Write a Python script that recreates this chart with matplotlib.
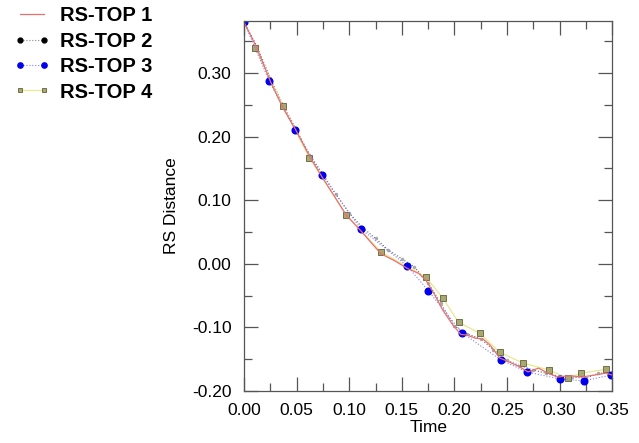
import numpy as np
import matplotlib
matplotlib.use("Agg")
import matplotlib.pyplot as plt
from matplotlib.ticker import MultipleLocator

plt.rcParams['font.family'] = ['Liberation Sans', 'DejaVu Sans']

# RS-TOP 1 (red thin line)
t1 = [0.0, 0.012, 0.025, 0.037, 0.049, 0.063, 0.074, 0.086, 0.097, 0.111, 0.130,
      0.143, 0.155, 0.166, 0.173, 0.181, 0.189, 0.198, 0.206, 0.212, 0.220, 0.227,
      0.234, 0.243, 0.253, 0.262, 0.270, 0.280, 0.289, 0.298, 0.310, 0.321, 0.333,
      0.344, 0.350]
v1 = [0.380, 0.340, 0.287, 0.245, 0.211, 0.167, 0.137, 0.106, 0.077, 0.052, 0.016,
      0.005, -0.007, -0.015, -0.026, -0.048, -0.073, -0.095, -0.111, -0.112, -0.117,
      -0.118, -0.128, -0.148, -0.155, -0.162, -0.170, -0.164, -0.172, -0.178, -0.176,
      -0.178, -0.175, -0.172, -0.175]

# RS-TOP 2 (black dotted)
t2 = [0.0, 0.012, 0.025, 0.037, 0.050, 0.062, 0.075, 0.087, 0.100, 0.112, 0.125,
      0.137, 0.150, 0.162, 0.175, 0.187, 0.200, 0.212, 0.225, 0.237, 0.250, 0.262,
      0.275, 0.287, 0.300, 0.312, 0.325, 0.337, 0.350]
v2 = [0.380, 0.343, 0.292, 0.250, 0.210, 0.172, 0.141, 0.110, 0.080, 0.058, 0.040,
      0.022, 0.008, -0.005, -0.030, -0.062, -0.098, -0.110, -0.118, -0.135, -0.152,
      -0.160, -0.167, -0.172, -0.177, -0.178, -0.180, -0.172, -0.172]

# RS-TOP 3 (blue circles)
t3 = [0.0, 0.024, 0.0485, 0.074, 0.111, 0.155, 0.175, 0.207, 0.244, 0.269, 0.300,
      0.323, 0.349]
v3 = [0.380, 0.287, 0.211, 0.140, 0.055, -0.003, -0.042, -0.108, -0.151, -0.170,
      -0.181, -0.184, -0.175]

# RS-TOP 4 (olive squares)
t4 = [0.0105, 0.037, 0.062, 0.097, 0.130, 0.173, 0.189, 0.204, 0.224, 0.243, 0.265,
      0.290, 0.308, 0.320, 0.344]
v4 = [0.340, 0.248, 0.167, 0.077, 0.019, -0.021, -0.054, -0.092, -0.109, -0.139,
      -0.156, -0.167, -0.180, -0.172, -0.166]

fig = plt.figure(figsize=(6.39, 4.43), dpi=100)
ax = fig.add_axes([0.382, 0.1174, 0.576, 0.8352])

ax.plot(t2, v2, color='#666666', lw=0.8, ls=':', marker='o', ms=1.5,
        mfc='#aaaaaa', mec='#aaaaaa', label='RS-TOP 2')
ax.plot(t4, v4, color='#e8e890', lw=0.9, ls='-', marker='s', ms=4.3,
        mfc='#a8a870', mec='#707048', mew=0.7, label='RS-TOP 4')
ax.plot(t3, v3, color='#8080ff', lw=0.8, ls=':', marker='o', ms=4.8,
        mfc='#0000ee', mec='#0000ee', label='RS-TOP 3')
ax.plot(t1, v1, color='#e87070', lw=0.9, ls='-', label='RS-TOP 1')

ax.set_xlim(0, 0.35)
ax.set_ylim(-0.2, 0.382)
ax.xaxis.set_major_locator(MultipleLocator(0.05))
ax.xaxis.set_minor_locator(MultipleLocator(0.025))
ax.yaxis.set_major_locator(MultipleLocator(0.1))
ax.yaxis.set_minor_locator(MultipleLocator(0.05))
ax.xaxis.set_major_formatter(lambda x, p: f"{x:.2f}")
ax.yaxis.set_major_formatter(lambda y, p: f"{y:.2f}")

ax.tick_params(which='both', direction='in', top=True, right=True,
               color='#555555', width=0.9, labelsize=12.5, pad=9)
ax.tick_params(which='major', length=10)
ax.tick_params(which='minor', length=5.5)
for s in ax.spines.values():
    s.set_color('#555555')
    s.set_linewidth(0.9)

ax.set_xlabel('Time', fontsize=12.5, labelpad=1)
ax.set_ylabel('RS Distance', fontsize=12.5, labelpad=9)

h, l = ax.get_legend_handles_labels()
order = [l.index(n) for n in ['RS-TOP 1', 'RS-TOP 2', 'RS-TOP 3', 'RS-TOP 4']]
leg = fig.legend([h[i] for i in order], [l[i] for i in order], loc='upper left',
                 bbox_to_anchor=(0.022, 0.986), frameon=False, numpoints=2,
                 prop={'size': 14.5, 'weight': 'bold'}, handlelength=1.8,
                 handletextpad=0.5, labelspacing=0.32, borderpad=0, borderaxespad=0)
# smaller markers in the legend, black dots for RS-TOP 2
lh = leg.legend_handles
lh[1].set_markersize(3.5)
lh[1].set_markerfacecolor('black')
lh[1].set_markeredgecolor('black')
lh[1].set_color('#888888')
lh[2].set_markersize(3.8)
lh[3].set_markersize(3.5)

fig.savefig('out.png', dpi=100)
